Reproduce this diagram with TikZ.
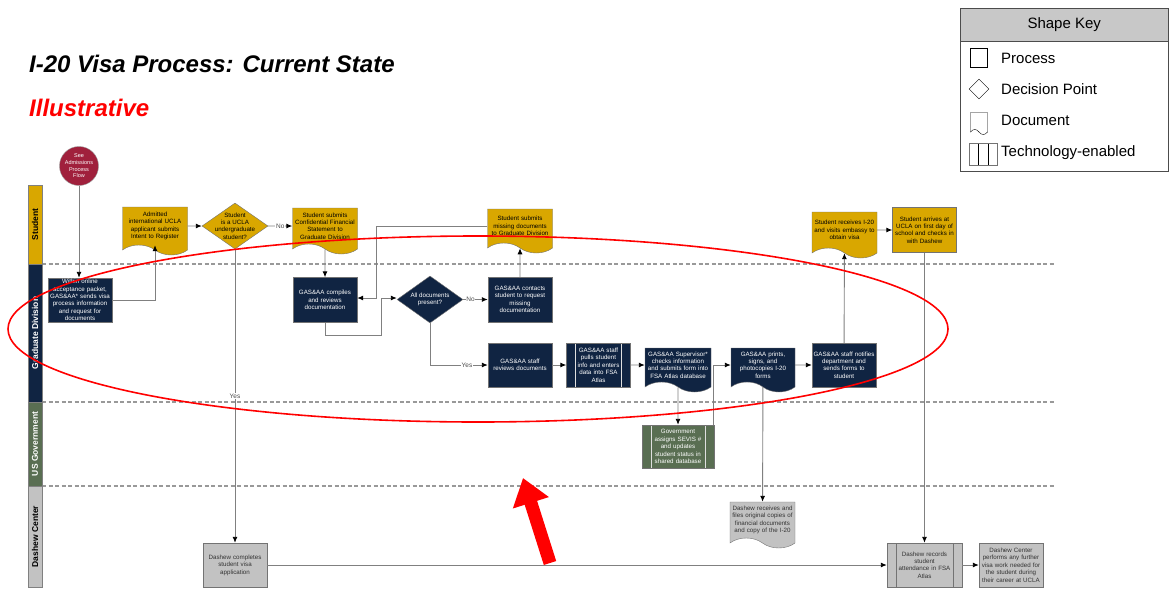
\documentclass[tikz,border=0pt]{standalone}
\usepackage{fontspec}
\setmainfont{Liberation Sans}
\usepackage{tikz}
\usetikzlibrary{positioning, shapes.geometric, shapes.symbols}
\usetikzlibrary{calc, arrows.meta}
\definecolor{stugold}{RGB}{217,167,0}
\definecolor{gdnavy}{RGB}{16,36,66}
\definecolor{govgreen}{RGB}{89,110,82}
\definecolor{dashgray}{RGB}{194,194,194}
\definecolor{admred}{RGB}{160,32,60}
\definecolor{keygray}{RGB}{200,200,200}
\newcommand{\boxfont}{\fontsize{6.2}{7.4}\selectfont}
\tikzstyle{process} = [rectangle, minimum width=64pt, minimum height=44pt, text width=62pt, inner sep=1pt, align=center, draw=black!55, font=\boxfont]
\tikzstyle{document} = [tape, tape bend top=none, tape bend bottom=out and in, tape bend height=10pt, minimum width=65pt, minimum height=46pt, text width=62pt, inner sep=1pt, align=center, draw=black!55, font=\boxfont]
\tikzstyle{decision} = [diamond, minimum width=66pt, minimum height=46pt, inner sep=-10pt, align=center, draw=black!55, font=\boxfont]
\tikzstyle{stu} = [fill=stugold, text=black]
\tikzstyle{gd} = [fill=gdnavy, text=white]
\tikzstyle{gov} = [fill=govgreen, text=white]
\tikzstyle{dsh} = [fill=dashgray, text=black!80]
\tikzstyle{lane} = [rectangle, rotate=90, minimum height=14pt, inner sep=0pt, draw=black!50, font=\fontsize{8.5}{9}\selectfont\bfseries]
\tikzstyle{arrow} = [draw=black!50, line width=0.9pt, -{Latex[length=6pt, width=5pt, color=black]}]
\tikzstyle{lbl} = [fill=white, inner sep=0.6pt, text=black!70, font=\fontsize{6.5}{7}\selectfont]
\tikzstyle{keytext} = [anchor=west, inner sep=0pt, font=\fontsize{15}{18}\selectfont]
\tikzset{tech/.style={rectangle, minimum height=44pt, inner xsep=10pt, inner ysep=1pt, align=center, draw=black!55, font=\boxfont,
  path picture={\draw[#1] ([xshift=9pt]path picture bounding box.north west) -- ([xshift=9pt]path picture bounding box.south west)
    ([xshift=-9pt]path picture bounding box.north east) -- ([xshift=-9pt]path picture bounding box.south east);}}}

\begin{document}
\begin{tikzpicture}[x=1pt, y=-1pt]
	\useasboundingbox (0,0) rectangle (1169,589);
	% titles
	\node (title) [anchor=base west, inner sep=0pt, font=\fontsize{24}{28}\selectfont\bfseries\itshape] at (29,72) {I-20 Visa Process: Current State};
	\node (illus) [anchor=base west, inner sep=0pt, text=red, font=\fontsize{24}{28}\selectfont\bfseries\itshape] at (29,116) {Illustrative};
	
	% shape key
	\node (key) [draw=black!70, anchor=north west, minimum width=208pt, minimum height=163pt] at (960,8) {};
	\node (keyhead) [draw=black!70, fill=keygray, anchor=north west, minimum width=208pt, minimum height=33pt, font=\fontsize{15}{18}\selectfont] at (960,8) {Shape Key};
	\node (keyproc) [draw, minimum width=17pt, minimum height=19pt, inner sep=0pt] at (979,58) {};
	\node (keydec) [diamond, draw, minimum width=20pt, minimum height=20pt, inner sep=0pt] at (979,89) {};
	\node (keydoc) [tape, tape bend top=none, tape bend bottom=out and in, tape bend height=5pt, draw, minimum width=17pt, minimum height=22pt, inner sep=0pt] at (979,121) {};
	\node (keytech) [tech=black, minimum width=28pt, minimum height=22pt, inner xsep=0pt] at (983,154) {};
	\node (keyproct) [keytext] at (1001,58) {Process};
	\node (keydect) [keytext] at (1001,89) {Decision Point};
	\node (keydoct) [keytext] at (1001,120) {Document};
	\node (keytecht) [keytext] at (1001,153) {Technology-enabled};
	
	% swim lanes
	\draw[black!40, line width=1.2pt, dash pattern=on 4pt off 2.5pt] (42,264) -- (1055,264) (42,402) -- (1055,402) (42,486) -- (1055,486);
	\node (lstu) [lane, stu, minimum width=79pt] at (35,224.5) {Student};
	\node (lgd) [lane, gd, minimum width=138pt] at (35,333) {Graduate Division};
	\node (lgov) [lane, gov, minimum width=84pt] at (35,444) {US Government};
	\node (ldsh) [lane, dsh, text=black, minimum width=101pt] at (35,536.5) {Dashew Center};
	
	% nodes
	\node (start) [circle, fill=admred, draw=black!40, minimum size=39pt, inner sep=0pt, align=center, text=white, font=\fontsize{5.5}{6.6}\selectfont] at (79,166) {See\\Admissions\\Process\\Flow};
	\node (packet) [process, gd] at (80,300) {Within online\\acceptance packet,\\GAS\&AA*  sends visa\\process information\\and request for\\documents};
	\node (intent) [document, stu, minimum height=48pt] at (155,226) {Admitted\\international UCLA\\applicant submits\\Intent to Register};
	\node (undergrad) [decision, stu] at (235,226) {Student\\is a UCLA\\undergraduate\\student?};
	\node (finstmt) [document, stu] at (325,226) {Student submits\\Confidential Financial\\Statement to\\Graduate Division};
	\node (compile) [process, gd, minimum height=45pt] at (325,300) {GAS\&AA compiles\\and reviews\\documentation};
	\node (alldocs) [decision, gd, minimum height=47pt] at (430,299.5) {All documents\\present?};
	\node (missing) [document, stu, minimum height=44pt] at (520,226) {Student submits\\missing documents\\to Graduate Division};
	\node (contact) [process, gd, minimum height=45pt] at (520,299.5) {GAS\&AA contacts\\student to request\\missing\\documentation};
	\node (review) [process, gd] at (520,365) {GAS\&AA staff\\reviews documents};
	\node (enter) [tech=white!75!gray, gd, minimum width=63pt, text width=44pt] at (598.5,365) {GAS\&AA staff\\pulls student\\info and enters\\data into FSA\\Atlas};
	\node (supervisor) [document, gd, minimum width=66pt, minimum height=44pt] at (678,365) {GAS\&AA Supervisor*\\checks information\\and submits form into\\FSA Atlas database};
	\node (sevis) [tech=white!75!gray, gov, minimum width=72pt, minimum height=43pt, text width=52pt] at (678,446.5) {Government\\assigns SEVIS \#\\and updates\\student status in\\shared database};
	\node (prints) [document, gd, minimum width=64pt, minimum height=44pt] at (763,365) {GAS\&AA prints,\\signs, and\\photocopies I-20\\forms};
	\node (notify) [process, gd] at (844,365) {GAS\&AA staff notifies\\department and\\sends forms to\\student};
	\node (files) [document, dsh] at (762.5,520) {Dashew receives and\\files original copies of\\financial documents\\and copy of the I-20};
	\node (embassy) [document, stu] at (844.5,230) {Student receives I-20\\and visits embassy to\\obtain visa};
	\node (arrive) [process, stu, minimum width=63pt, minimum height=45pt] at (924.5,230) {Student arrives at\\UCLA on first day of\\school and checks in\\with Dashew};
	\node (records) [tech=black!55, dsh, minimum width=75pt, text width=52pt] at (924.5,565) {Dashew records\\student\\attendance in FSA\\Atlas};
	\node (further) [process, dsh] at (1011,565) {Dashew Center\\performs any further\\visa work needed for\\the student during\\their career at UCLA};
	\node (complete) [process, dsh] at (235,565) {Dashew completes\\student visa\\application};
	
	% connectors
	\draw [arrow](start.south) -- (start.south |- packet.north);
	\draw [arrow](packet.east) -| (intent.south);
	\draw [arrow](intent) -- (undergrad);
	\draw [arrow](undergrad) -- node[lbl] {No} (finstmt);
	\draw [arrow](undergrad) -- node[lbl] {Yes} (complete);
	\draw [arrow](finstmt) -- (compile);
	\draw [arrow](compile.south) -- ++(0,13) -| ($(alldocs.west)+(-15,-1.5)$) -- ($(alldocs.west)+(0,-1.5)$);
	\draw [arrow](missing.west) -| ($(compile.east)+(19,-2)$) -- ($(compile.east)+(0,-2)$);
	\draw [arrow](alldocs) -- node[lbl, pos=0.3] {No} (contact);
	\draw [arrow](contact) -- (missing);
	\draw [arrow](alldocs.south) |- node[lbl, pos=0.82] {Yes} (review.west);
	\draw [arrow](review) -- (enter);
	\draw [arrow](enter) -- (supervisor);
	\draw [arrow](supervisor) -- (sevis);
	\draw [arrow]([xshift=-1pt]sevis.north east) |- (prints.west);
	\draw [arrow](prints) -- (notify);
	\draw [arrow](prints) -- (files);
	\draw [arrow](notify) -- (embassy);
	\draw [arrow](embassy) -- (arrive);
	\draw [arrow](arrive) -- (records);
	\draw [arrow](complete) -- (records);
	\draw [arrow](records) -- (further);
	
	% red markup
	\draw[red, line width=1.6pt] (478,329) ellipse [x radius=470, y radius=93];
	\draw[red, line width=13pt, -{Triangle[width=36pt, length=26pt]}] (550,563) -- (523,478);
\end{tikzpicture}
\end{document}
